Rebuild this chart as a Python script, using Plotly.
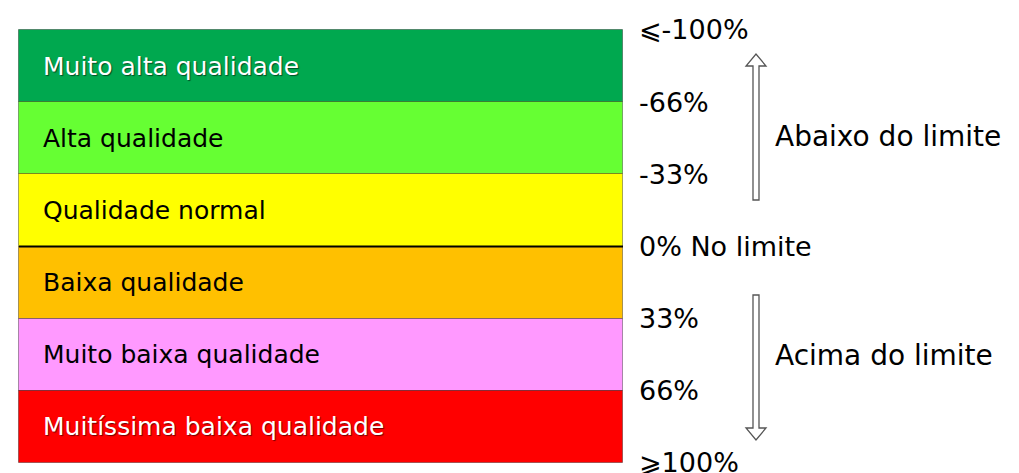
import plotly.graph_objects as go

# ---- data ----
categories = ["Muito alta qualidade", "Alta qualidade", "Qualidade normal",
              "Baixa qualidade", "Muito baixa qualidade", "Muitíssima baixa qualidade"]
band_colors = ["#00A84F", "#66FF33", "#FFFF00", "#FFC000", "#FF99FF", "#FF0000"]
label_colors = ["white", "black", "black", "black", "black", "white"]
levels = [0, 1, 2, 3, 4, 5, 6]
level_labels = ["⩽-100%", "-66%", "-33%", "0% No limite", "33%", "66%", "⩾100%"]
side_notes = ["Abaixo do limite", "Acima do limite"]

OFF = 8                      # page body margin
W, H = 1019 - OFF, 473 - OFF
FONT = "DejaVu Sans, Liberation Sans, sans-serif"
BAR_L, BAR_R, BAR_T, BAR_B = 19 - OFF, 623 - OFF, 30 - OFF, 463 - OFF
STEP = (BAR_B - BAR_T) / 6
BW = BAR_R - BAR_L

fig = go.Figure()
centers = [i + 0.5 for i in range(len(categories))]
fig.add_trace(go.Bar(
    orientation="h", y=centers, x=[1] * len(categories), base=0, width=1,
    marker=dict(color=band_colors, line=dict(color="rgba(0,0,0,0.35)", width=1)),
    hoverinfo="skip", showlegend=False,
))

for c, name, col in zip(centers, categories, label_colors):
    shadow = "1px 1px 1px rgba(0,0,0,0.55)" if col == "white" else "none"
    fig.add_annotation(x=0.037, y=c, xref="x", yref="y", text=name, showarrow=False,
                       xanchor="left", yanchor="middle",
                       font=dict(family=FONT, size=25, color=col, shadow=shadow))

# zero line (limit)
fig.add_shape(type="line", xref="x", yref="y", x0=0, x1=1.005, y0=3, y1=3,
              line=dict(color="black", width=2))

def px(x, y):
    return (x - OFF) / W, 1 - (y - OFF) / H

def arrow_path(pts):
    s = ""
    for i, (x, y) in enumerate(pts):
        a, b = px(x, y)
        s += ("M" if i == 0 else "L") + f"{a:.5f},{b:.5f} "
    return s + "Z"

up = [(753, 200), (753, 66), (746, 66), (756, 54), (766, 66), (759, 66), (759, 200)]
down = [(753, 295), (753, 428), (746, 428), (756, 440), (766, 428), (759, 428), (759, 295)]
for p in (up, down):
    fig.add_shape(type="path", xref="paper", yref="paper", path=arrow_path(p),
                  fillcolor="white", line=dict(color="#555555", width=1.3))

for note, y in zip(side_notes, [136, 355]):
    a, b = px(773, y)
    fig.add_annotation(x=a, y=b, xref="paper", yref="paper", text=note,
                       showarrow=False, xanchor="left", yanchor="middle",
                       font=dict(family=FONT, size=28, color="black"))

fig.update_layout(
    width=W, height=H, margin=dict(l=0, r=0, t=0, b=0, autoexpand=False),
    plot_bgcolor="white", paper_bgcolor="white", bargap=0,
    xaxis=dict(domain=[0, BAR_R / W], range=[-BAR_L / BW, 1], visible=False,
               fixedrange=True, automargin=False),
    yaxis=dict(range=[6 + (H - BAR_B) / STEP, -BAR_T / STEP], side="right", tickvals=levels,
               ticktext=level_labels, showgrid=False, zeroline=False, showline=False,
               ticks="", ticklabelstandoff=15, ticklabeloverflow="allow", automargin=False,
               tickfont=dict(family=FONT, size=27, color="black"), fixedrange=True),
)

fig.write_html("out.html")
